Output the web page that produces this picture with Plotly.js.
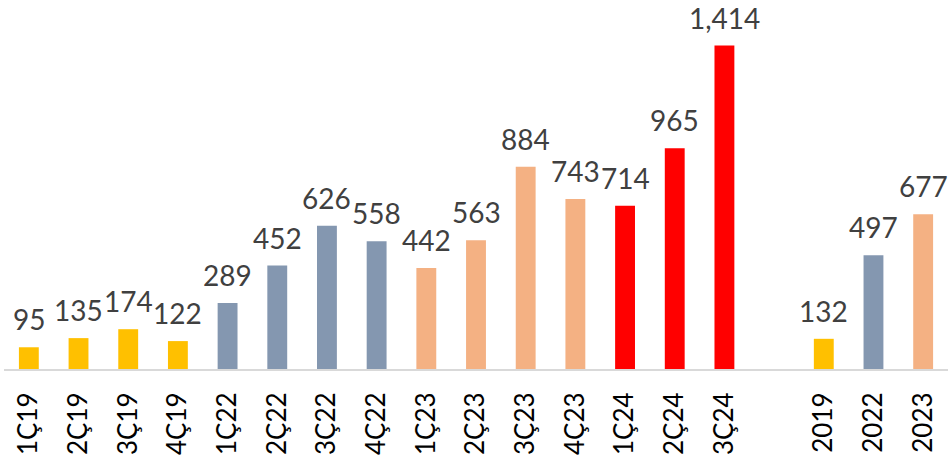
<!DOCTYPE html>
<html>
<head>
<meta charset="utf-8">
<script src="https://cdn.plot.ly/plotly-3.0.1.min.js"></script>
<style>html,body{margin:0;padding:0;background:#fff;}#chart{width:948px;height:462px;}</style>
</head>
<body>
<div id="chart"></div>
<script>
var categories = ["1Ç19","2Ç19","3Ç19","4Ç19","1Ç22","2Ç22","3Ç22","4Ç22","1Ç23","2Ç23","3Ç23","4Ç23","1Ç24","2Ç24","3Ç24"," ","2019","2022","2023"];
var values = [95,135,174,122,289,452,626,558,442,563,884,743,714,965,1414,null,132,497,677];
var groups = ["y19","y19","y19","y19","y22","y22","y22","y22","y23","y23","y23","y23","y24","y24","y24","gap","y19","y22","y23"];
var groupColors = {y19:"#FFC000", y22:"#8497B0", y23:"#F4B183", y24:"#FF0000", gap:"rgba(0,0,0,0)"};

var trace = {
  type: "bar",
  x: categories,
  y: values,
  marker: {color: groups.map(function(g){return groupColors[g];})},
  hoverinfo: "none"
};

var annotations = [];
categories.forEach(function(c, i){
  if (values[i] === null) return;
  annotations.push({
    x: i, y: values[i], xref: "x", yref: "y",
    text: values[i].toLocaleString("en-US"),
    showarrow: false, yanchor: "bottom", xanchor: "center",
    yshift: 10, borderpad: 0,
    font: {family: "Lato, sans-serif", size: 28, color: "#404040"}
  });
});

var layout = {
  width: 948, height: 462,
  margin: {l: 4, r: 0, t: 3, b: 93},
  paper_bgcolor: "#fff", plot_bgcolor: "#fff",
  bargap: 0.6,
  showlegend: false,
  annotations: annotations,
  xaxis: {
    type: "category",
    categoryorder: "array",
    categoryarray: categories,
    range: [-0.5, categories.length - 0.5],
    tickangle: -90,
    tickfont: {family: "Lato, sans-serif", size: 26, color: "#000"},
    showline: true, linecolor: "#D9D9D9", linewidth: 2,
    ticks: "outside", ticklen: 11, tickcolor: "rgba(0,0,0,0)",
    showgrid: false, zeroline: false, fixedrange: true
  },
  yaxis: {
    range: [0, 1600],
    visible: false,
    showgrid: false, zeroline: false, fixedrange: true
  }
};

Plotly.newPlot("chart", [trace], layout, {displayModeBar: false, staticPlot: true});
</script>
</body>
</html>
